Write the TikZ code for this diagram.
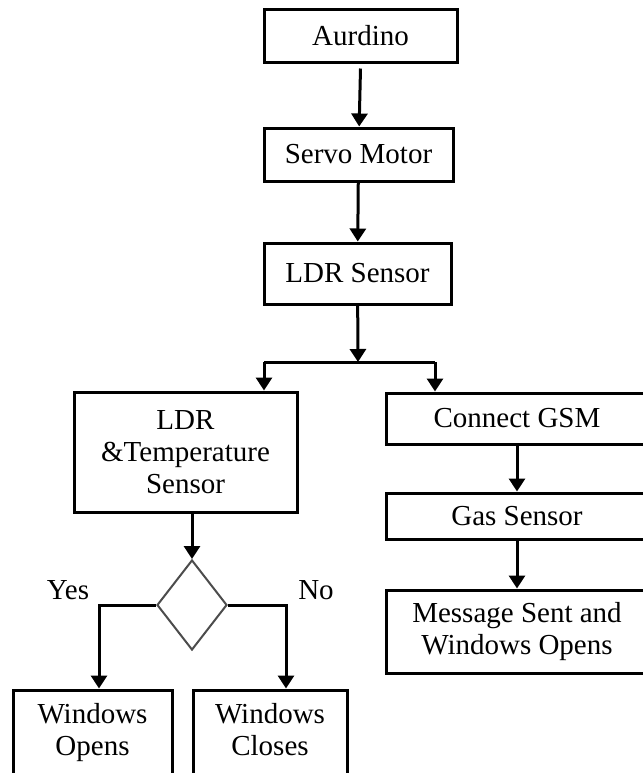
\documentclass[tikz,border=0pt]{standalone}
\usepackage{fontspec}
\setmainfont{Liberation Serif}
\usetikzlibrary{shapes.geometric}
\usetikzlibrary{positioning}
\usetikzlibrary{arrows.meta}

\tikzset{
    block/.style={draw, line width=1.5pt, rectangle, align=center, inner sep=0pt,
        font=\fontsize{14.5}{16}\selectfont},
    decide/.style={draw=black!70, line width=1pt, diamond, inner sep=0pt},
    arr/.style={line width=1.5pt, -{Triangle[width=8pt,length=6.5pt]}},
    lbl/.style={font=\fontsize{14.5}{16}\selectfont}
}

\begin{document}
\begin{tikzpicture}[x=0.5pt, y=-0.5pt]
    \useasboundingbox (0,0) rectangle (643,773);
    % Main column
    \node[block, minimum width=96.5pt, minimum height=26.5pt] (ard) at (360.5,35.5) {Aurdino};
    \node[block, minimum width=94.5pt, minimum height=26.5pt] (servo) at (358.5,154.5) {Servo Motor};
    \node[block, minimum width=93.5pt, minimum height=30.5pt] (ldr) at (357.5,273.5) {LDR Sensor};
    % Split point
    \coordinate (split) at (358,362);
    \coordinate (splitL) at (264,362);
    \coordinate (splitR) at (435,362);
    % Left branch
    \node[block, minimum width=111.5pt, minimum height=60pt] (ldrt) at (185.5,452) {LDR\\\&Temperature\\Sensor};
    \node[decide, minimum width=35pt, minimum height=45pt] (dec) at (192,605) {};
    \node[block, minimum width=79.5pt, minimum height=44pt] (wo) at (92.5,734) {Windows\\Opens\strut};
    \node[block, minimum width=77pt, minimum height=44pt] (wc) at (270,734) {Windows\\Closes\strut};
    \node[lbl] (yes) at (68,590) {Yes};
    \node[lbl] (no) at (316,590) {No};
    % Right branch
    \node[block, minimum width=131pt, minimum height=25.5pt] (gsm) at (517,418.5) {Connect GSM};
    \node[block, minimum width=131pt, minimum height=23pt] (gas) at (517,516) {Gas Sensor};
    \node[block, minimum width=131pt, minimum height=41.5pt] (msg) at (517,631.5) {Message Sent and\\Windows Opens};
    % Connectors
    \draw[arr] ([yshift=-2.5pt]ard.south) -- (servo);
    \draw[arr] (servo) -- (ldr);
    \draw[arr] (ldr) -- (split);
    \draw[line width=1.5pt] (splitL) -- (splitR);
    \draw[arr] (splitL) -- (splitL |- ldrt.north);
    \draw[arr] (splitR) -- (splitR |- gsm.north);
    \draw[arr] (dec.north |- ldrt.south) -- (dec.north);
    \draw[arr] (dec.west) -| ([xshift=3.25pt]wo.north);
    \draw[arr] (dec.east) -| ([xshift=8pt]wc.north);
    \draw[arr] (gsm) -- (gas);
    \draw[arr] (gas) -- (msg);
\end{tikzpicture}
\end{document}
